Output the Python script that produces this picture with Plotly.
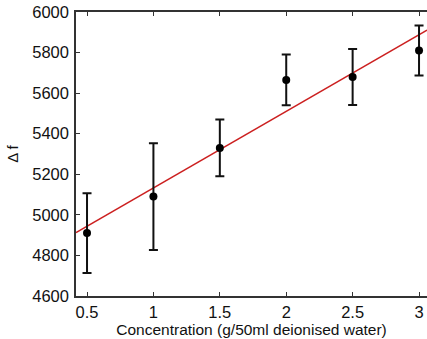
import plotly.graph_objects as go

conc = [0.5, 1.0, 1.5, 2.0, 2.5, 3.0]
delta_f = [4910, 5090, 5330, 5665, 5680, 5810]
err = [197, 263, 140, 125, 138, 123]
fit_x = [0.417, 3.06]
fit_y = [4912, 5911]
x_ticks = [0.5, 1, 1.5, 2, 2.5, 3]
x_tick_text = ["0.5", "1", "1.5", "2", "2.5", "3"]
y_ticks = [4600, 4800, 5000, 5200, 5400, 5600, 5800, 6000]

fig = go.Figure()
fig.add_trace(go.Scatter(
    x=fit_x, y=fit_y, mode="lines",
    line=dict(color="#cc2020", width=1.5), showlegend=False, hoverinfo="skip"))
fig.add_trace(go.Scatter(
    x=conc, y=delta_f, mode="markers",
    marker=dict(color="black", size=8),
    error_y=dict(type="data", array=err, visible=True, color="#111111", thickness=2, width=4.5),
    showlegend=False))

font = "Liberation Sans, Arial, sans-serif"
fig.update_layout(
    width=427, height=339,
    margin=dict(l=76, r=0, t=12, b=43),
    paper_bgcolor="white", plot_bgcolor="white",
    font=dict(family=font, color="#111111"),
    xaxis=dict(
        range=[0.417, 3.06], tickvals=x_ticks, ticktext=x_tick_text,
        ticks="inside", ticklen=4, tickwidth=1, tickcolor="#333",
        showline=True, linecolor="#333", linewidth=1.5, mirror="ticks",
        showgrid=False, zeroline=False, tickfont=dict(size=16.5),
        ticklabelstandoff=0,
        title=dict(text="Concentration (g/50ml deionised water)", font=dict(size=15.5), standoff=0),
    ),
    yaxis=dict(
        range=[4600, 6000], tickvals=y_ticks,
        ticks="inside", ticklen=4, tickwidth=1, tickcolor="#333",
        showline=True, linecolor="#333", linewidth=1.5,
        showgrid=False, zeroline=False, tickfont=dict(size=16.5),
        ticklabelstandoff=2,
        title=dict(text="Δ f", font=dict(size=15), standoff=10),
    ),
)
fig.write_html("out.html")
